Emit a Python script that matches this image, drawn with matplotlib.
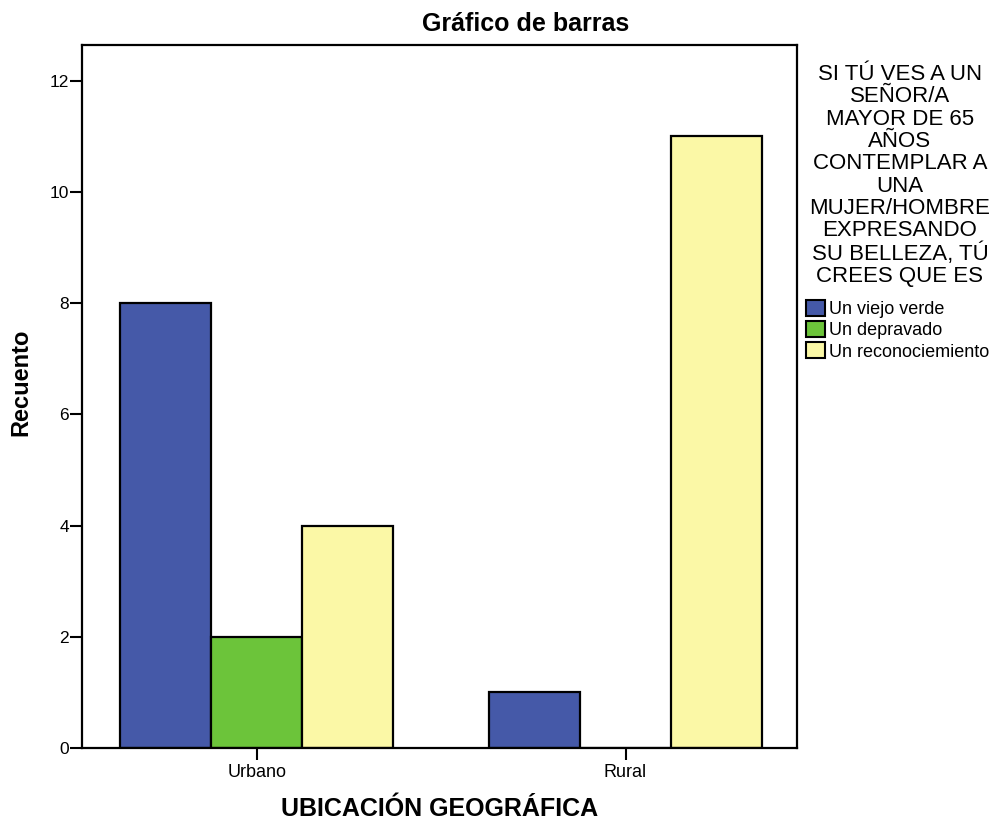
import numpy as np
import matplotlib.pyplot as plt

plt.rcParams['font.family'] = ['Liberation Sans', 'DejaVu Sans']

categorias = ['Urbano', 'Rural']
series = ['Un viejo verde', 'Un depravado', 'Un reconociemiento']
valores = [[8, 1], [2, 0], [4, 11]]
colores = ['#4559a8', '#6cc43a', '#fbf8a6']

fig = plt.figure(figsize=(9.95, 8.23), dpi=100)
ax = fig.add_axes([0.0824, 0.0911, 0.7186, 0.8542])

x = np.arange(len(categorias))
w = 0.247
for i, (nombre, vals) in enumerate(zip(series, valores)):
    ax.bar(x + (i - 1) * w, vals, w, color=colores[i], edgecolor='black', linewidth=1.6, label=nombre)

ax.set_xlim(-0.474, 1.465)
ax.set_ylim(0, 12.64)
ax.set_yticks([0, 2, 4, 6, 8, 10, 12])
ax.set_xticks(x)
ax.set_xticklabels(categorias, fontsize=13)
ax.tick_params(axis='y', labelsize=12.5, length=8.5, width=1.5, pad=1)
ax.tick_params(axis='x', length=8.5, width=1.5, pad=3)
for s in ax.spines.values():
    s.set_linewidth(1.6)

fig.text(0.528, 0.971, 'Gráfico de barras', ha='center', va='center', fontsize=18, fontweight='bold')
ax.set_ylabel('Recuento', fontsize=17, fontweight='bold')
ax.yaxis.set_label_coords(-0.07, 0.52)
ax.set_xlabel('UBICACIÓN GEOGRÁFICA', fontsize=18, fontweight='bold', va='top')
ax.xaxis.set_label_coords(0.5, -0.069)

titulo = 'SI TÚ VES A UN\nSEÑOR/A\nMAYOR DE 65\nAÑOS\nCONTEMPLAR A\nUNA\nMUJER/HOMBRE\nEXPRESANDO\nSU BELLEZA, TÚ\nCREES QUE ES'
fig.text(0.9045, 0.922, titulo, ha='center', va='top', fontsize=16, linespacing=1.08)
leg = ax.legend(loc='upper left', bbox_to_anchor=(806 / 995, 1 - 300 / 823), bbox_transform=fig.transFigure,
                frameon=False, fontsize=13, handlelength=1.05, handleheight=1.0, handletextpad=0.2,
                labelspacing=0.16, borderpad=0, borderaxespad=0)
for h in leg.legend_handles:
    h.set_linewidth(1.5)

plt.savefig('out.png')
